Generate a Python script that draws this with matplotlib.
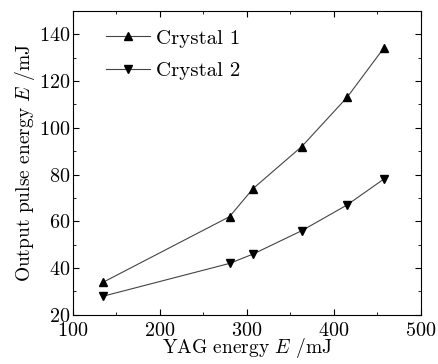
import matplotlib
matplotlib.use("Agg")
import matplotlib.pyplot as plt
from matplotlib.ticker import MultipleLocator

plt.rcParams['font.family'] = 'serif'
plt.rcParams['font.serif'] = ['cmr10', 'DejaVu Serif']
plt.rcParams['mathtext.fontset'] = 'cm'
plt.rcParams['axes.formatter.use_mathtext'] = True

yag = [135, 280, 307, 363, 415, 457]
crystal1 = [34, 62, 74, 92, 113, 134]
crystal2 = [28, 42, 46, 56, 67, 78]

fig = plt.figure(figsize=(4.39, 3.64), dpi=100)
ax = fig.add_axes([0.166, 0.135, 0.793, 0.835])

ax.plot(yag, crystal1, color='#444444', lw=0.8, marker='^', ms=5.5,
        mfc='black', mec='black', label='Crystal 1')
ax.plot(yag, crystal2, color='#444444', lw=0.8, marker='v', ms=5.5,
        mfc='black', mec='black', label='Crystal 2')

ax.set_xlim(100, 500)
ax.set_ylim(20, 150)
ax.xaxis.set_major_locator(MultipleLocator(100))
ax.xaxis.set_minor_locator(MultipleLocator(50))
ax.yaxis.set_major_locator(MultipleLocator(20))
ax.yaxis.set_minor_locator(MultipleLocator(10))
ax.tick_params(which='both', direction='in', top=True, right=True,
               labelsize=14.5)
ax.tick_params(axis='x', pad=5)
ax.tick_params(axis='y', pad=2)
ax.tick_params(which='major', length=4)
ax.tick_params(which='minor', length=2)

ax.set_xlabel(r'YAG energy $E$ /mJ', fontsize=14, labelpad=-3)
ax.set_ylabel(r'Output pulse energy $E$ /mJ', fontsize=14, labelpad=1)

ax.legend(loc='upper left', bbox_to_anchor=(0.095, 0.94), frameon=False,
          fontsize=15, handlelength=2.1, handletextpad=0.3,
          labelspacing=0.65, borderaxespad=0, borderpad=0)

fig.savefig('out.png', dpi=100)
